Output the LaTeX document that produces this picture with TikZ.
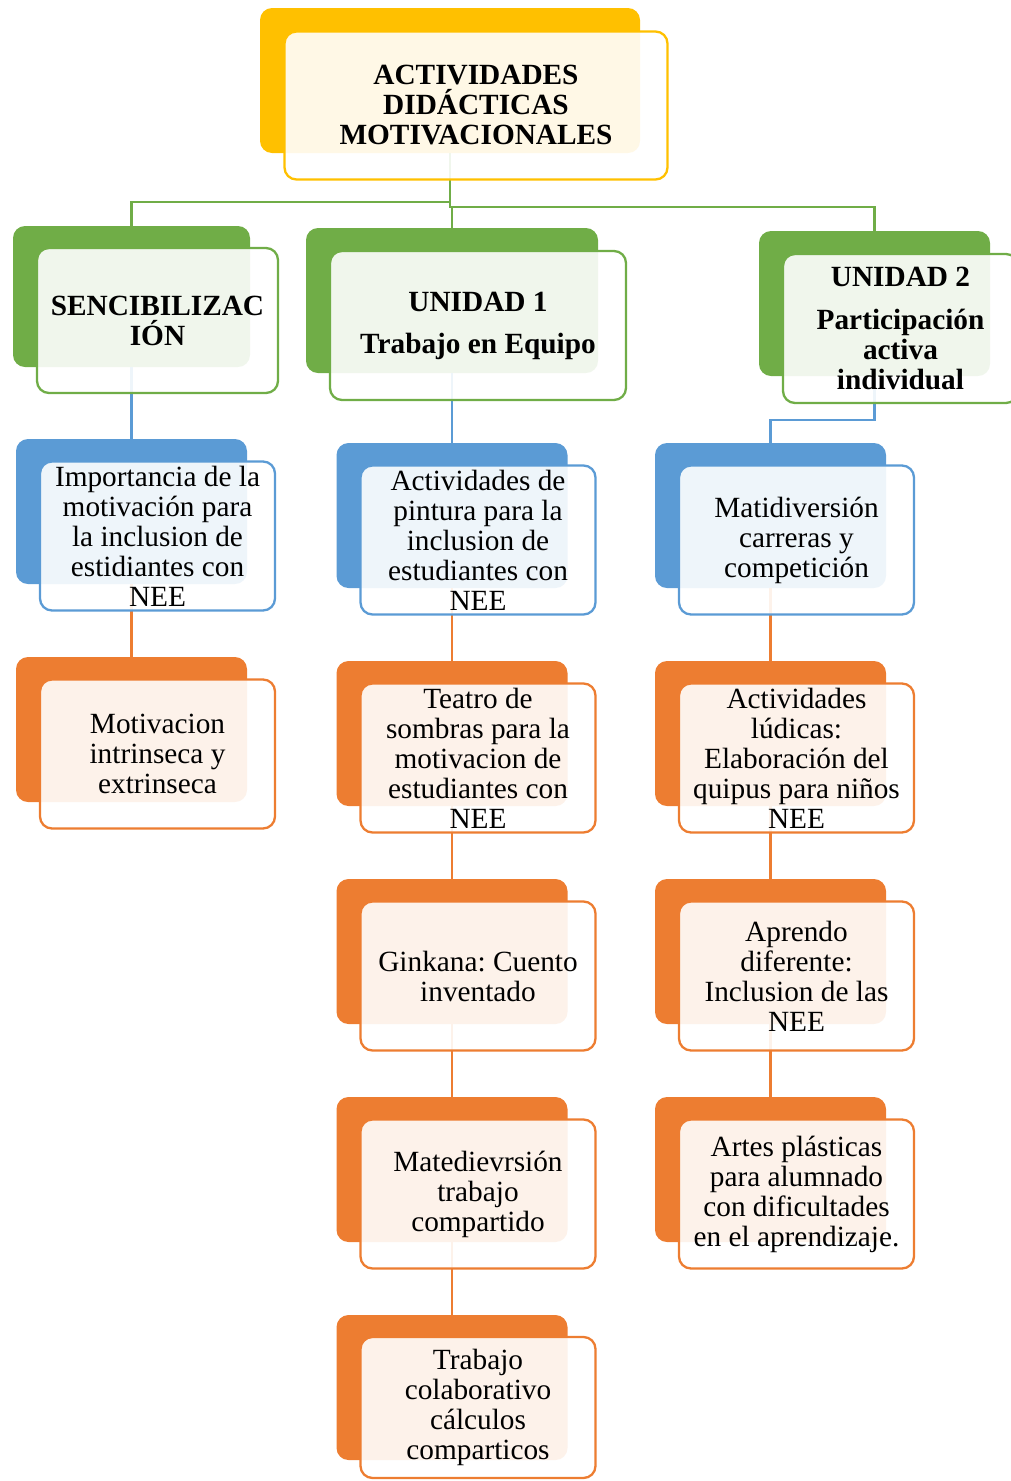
\documentclass[tikz,border=0pt]{standalone}
\usepackage{fontspec}
\setmainfont{Liberation Serif}
\frenchspacing
\definecolor{amarillo}{HTML}{FFC000}
\definecolor{verde}{HTML}{70AD47}
\definecolor{azul}{HTML}{5B9BD5}
\definecolor{naranja}{HTML}{ED7D31}
\tikzset{
	fondo/.style={fill=#1, rounded corners=12pt, inner sep=0pt, minimum width=231pt, minimum height=145pt},
	frente/.style={draw=#1, line width=2.3pt, fill=white, fill opacity=0.9, text opacity=1, rounded corners=12pt, inner sep=0pt, minimum width=235pt, minimum height=149pt, align=center, font=\fontsize{29.3}{30}\selectfont},
	negrita/.style={font=\fontsize{29.3}{30}\selectfont\bfseries},
	enlace/.style={draw=#1, line width=2.3pt}
}
\begin{document}
\begin{tikzpicture}[x=1pt, y=-1pt]
		\useasboundingbox (0,0) rectangle (1010,1481);
		\node[fondo=amarillo, minimum width=380pt] (tit) at (450,80.5) {};
		\node[fondo=verde, minimum width=237pt, minimum height=141pt] (sen) at (131.5,296.5) {};
		\node[fondo=verde, minimum width=292pt] (u1) at (452,300.5) {};
		\node[fondo=verde] (u2) at (874.5,303.5) {};
		\node[fondo=azul] (imp) at (131.5,511.5) {};
		\node[fondo=azul] (pin) at (452,515.5) {};
		\node[fondo=azul] (mat) at (770.5,515.5) {};
		\node[fondo=naranja] (mot) at (131.5,729.5) {};
		\node[fondo=naranja] (tea) at (452,733.5) {};
		\node[fondo=naranja] (gin) at (452,951.5) {};
		\node[fondo=naranja] (mtd) at (452,1169.5) {};
		\node[fondo=naranja] (tra) at (452,1387.5) {};
		\node[fondo=naranja] (lud) at (770.5,733.5) {};
		\node[fondo=naranja] (apr) at (770.5,951.5) {};
		\node[fondo=naranja] (art) at (770.5,1169.5) {};

		\draw[enlace=verde] (tit.south) -- ++(0,49) -| (sen.north);
		\draw[enlace=verde] (tit.south) -- ++(0,54) -| (u1.north);
		\draw[enlace=verde] (tit.south) -- ++(0,54) -| (u2.north);
		\draw[enlace=azul] (sen.south) -- (imp.north);
		\draw[enlace=azul] (u1.south) -- (pin.north);
		\draw[enlace=azul] (u2.south) -- ++(0,44) -| (mat.north);
		\draw[enlace=naranja] (imp.south) -- (mot.north);
		\draw[enlace=naranja] (pin.south) -- (tea.north);
		\draw[enlace=naranja] (tea.south) -- (gin.north);
		\draw[enlace=naranja] (gin.south) -- (mtd.north);
		\draw[enlace=naranja] (mtd.south) -- (tra.north);
		\draw[enlace=naranja] (mat.south) -- (lud.north);
		\draw[enlace=naranja] (lud.south) -- (apr.north);
		\draw[enlace=naranja] (apr.south) -- (art.north);

		\node[frente=amarillo, negrita, minimum width=383pt, minimum height=148pt] (titF) at ([shift={(26,25)}]tit.center) {ACTIVIDADES\\DIDÁCTICAS\\MOTIVACIONALES};
		\node[frente=verde, negrita, minimum width=241pt, minimum height=145pt] (senF) at ([shift={(26,24)}]sen.center) {SENCIBILIZAC\\IÓN};
		\node[frente=verde, negrita, minimum width=296pt] (u1F) at ([shift={(26,25)}]u1.center) {UNIDAD 1\\[12pt]Trabajo en Equipo};
		\node[frente=verde, negrita] (u2F) at ([shift={(26,25)}]u2.center) {UNIDAD 2\\[13pt]Participación\\activa\\individual};
		\node[frente=azul] (impF) at ([shift={(26,24.5)}]imp.center) {Importancia de la\\motivación para\\la inclusion de\\estidiantes con\\NEE};
		\node[frente=azul] (pinF) at ([shift={(26,24.5)}]pin.center) {Actividades de\\pintura para la\\inclusion de\\estudiantes con\\NEE};
		\node[frente=azul] (matF) at ([shift={(26,24.5)}]mat.center) {Matidiversión\\carreras y\\competición};
		\node[frente=naranja] (motF) at ([shift={(26,24.5)}]mot.center) {Motivacion\\intrinseca y\\extrinseca};
		\node[frente=naranja] (teaF) at ([shift={(26,24.5)}]tea.center) {Teatro de\\sombras para la\\motivacion de\\estudiantes con\\NEE};
		\node[frente=naranja] (ginF) at ([shift={(26,24.5)}]gin.center) {Ginkana: Cuento\\inventado};
		\node[frente=naranja] (mtdF) at ([shift={(26,24.5)}]mtd.center) {Matedievrsión\\trabajo\\compartido};
		\node[frente=naranja, minimum height=141pt] (traF) at ([shift={(26,20)}]tra.center) {Trabajo\\colaborativo\\cálculos\\comparticos};
		\node[frente=naranja] (ludF) at ([shift={(26,24.5)}]lud.center) {Actividades\\lúdicas:\\Elaboración del\\quipus para niños\\NEE};
		\node[frente=naranja] (aprF) at ([shift={(26,24.5)}]apr.center) {Aprendo\\diferente:\\Inclusion de las\\NEE};
		\node[frente=naranja] (artF) at ([shift={(26,24.5)}]art.center) {Artes plásticas\\para alumnado\\con dificultades\\en el aprendizaje.};
\end{tikzpicture}
\end{document}
